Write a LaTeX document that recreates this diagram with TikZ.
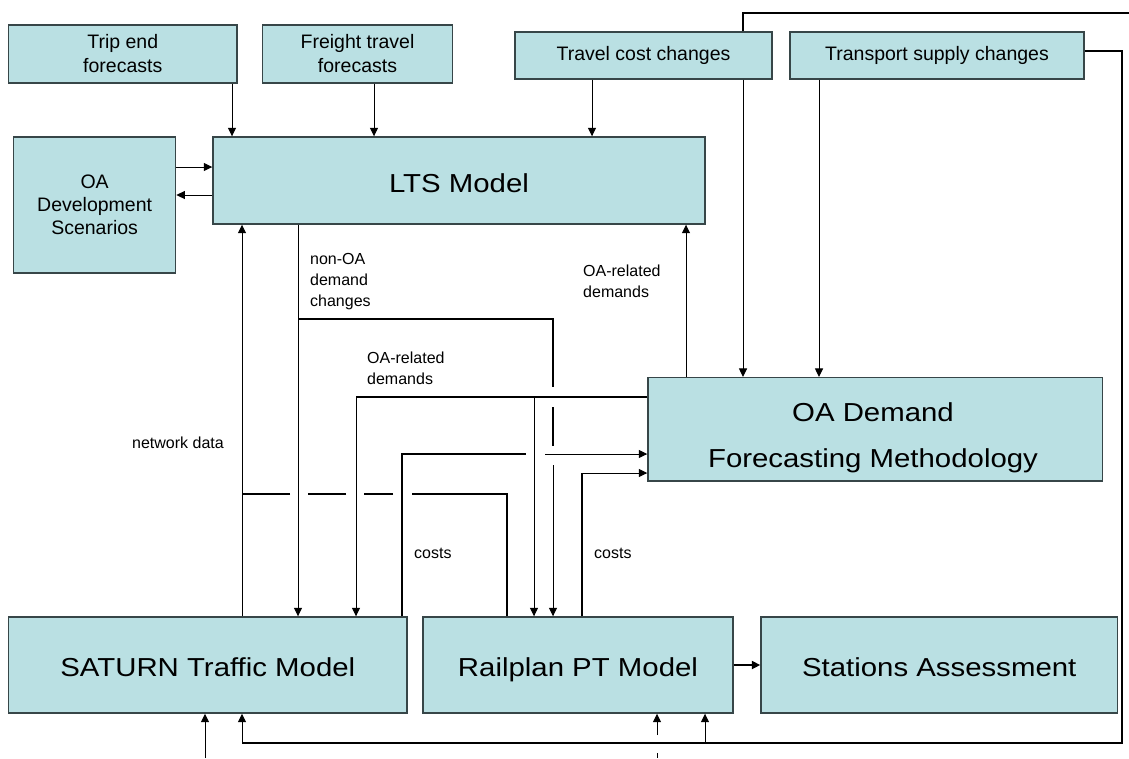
\documentclass[tikz,border=0pt]{standalone}
\usepackage{fontspec}
\setmainfont{Liberation Sans}
\newfontfamily\widesans[FakeStretch=1.13]{Liberation Sans}
\usetikzlibrary{arrows.meta}
\definecolor{boxfill}{RGB}{186,224,227}
\definecolor{boxline}{RGB}{55,70,72}
\begin{document}
\begin{tikzpicture}[x=1pt,y=-1pt,
  box/.style={draw=boxline,fill=boxfill,line width=1.4pt,inner sep=0pt,align=center,rectangle},
  sbox/.style={box,font=\fontsize{19.5}{24}\selectfont},
  bbox/.style={box,font=\widesans\fontsize{26}{34}\selectfont,text height=23pt,text depth=0pt},
  lbl/.style={inner sep=0pt,align=left,font=\fontsize{16}{21}\selectfont},
  thn/.style={line width=1pt},
  thk/.style={line width=2.2pt},
  arr/.style={-{Triangle[length=8.5pt,width=8pt]}}]
\useasboundingbox (0,0) rectangle (1129,758);
% boxes
\node[sbox,minimum width=228.5pt,minimum height=58pt] (trip) at (122.75,54) {Trip end\\forecasts};
\node[sbox,minimum width=190pt,minimum height=58pt] (freight) at (357.5,54) {Freight travel\\forecasts};
\node[sbox,minimum width=257pt,minimum height=47pt] (travel) at (643.5,55.5) {Travel cost changes};
\node[sbox,minimum width=294pt,minimum height=47pt] (supply) at (937,55.5) {Transport supply changes};
\node[sbox,minimum width=162pt,minimum height=136pt,font=\fontsize{19.5}{23}\selectfont] (oadev) at (94.65,205) {OA\\Development\\Scenarios};
\node[bbox,minimum width=492pt,minimum height=87pt] (lts) at (459,180.5) {LTS Model};
\node[box,minimum width=454.5pt,minimum height=103.3pt] (oad) at (875.25,429.3) {};
\node[inner sep=0pt,align=center,font=\widesans\fontsize{26}{46}\selectfont] (oadtext) at (873,438) {OA Demand\\Forecasting Methodology};
\node[bbox,minimum width=398.4pt,minimum height=96pt] (sat) at (207.8,665) {SATURN Traffic Model};
\node[bbox,minimum width=310pt,minimum height=96pt] (rail) at (578,665) {Railplan PT Model};
\node[bbox,minimum width=356.5pt,minimum height=96pt] (stat) at (939.25,665) {Stations Assessment};
% free ends
\coordinate (topend) at (1129,13);
\coordinate (satin) at (205,758);
\coordinate (railinA) at (657,735);
\coordinate (railinB) at (657,753);
\coordinate (railinC) at (657,758);
% labels
\node[lbl,anchor=west] (lnonoa) at (310,282) {non-OA\\demand\\changes};
\node[lbl,anchor=east] (lnet) at (224,443) {network data};
\node[lbl,anchor=west] (loa1) at (583,281) {OA-related\\demands};
\node[lbl,anchor=west] (loa2) at (367,368) {OA-related\\demands};
\node[lbl,anchor=west] (lcost1) at (414,553) {costs};
\node[lbl,anchor=west] (lcost2) at (594,553) {costs};
% inputs into LTS
\draw[thn,arr] (232,0 |- trip.south) -- (232,0 |- lts.north);
\draw[thn,arr] (374,0 |- freight.south) -- (374,0 |- lts.north);
\draw[thn,arr] (592,0 |- travel.south) -- (592,0 |- lts.north);
\draw[thn,arr] (oadev.east |- 0,167) -- (lts.west |- 0,167);
\draw[thn,arr] (lts.west |- 0,195) -- (oadev.east |- 0,195);
% network data
\draw[thn,arr] (242,0 |- sat.north) -- (242,0 |- lts.south);
% non-OA demand changes
\draw[thn,arr] (298,0 |- lts.south) -- (298,0 |- sat.north);
\draw[thk] (298,319) -- (553,319) -- (553,387);
\draw[thk] (553,407) -- (553,446);
\draw[thn,arr] (553,465) -- (553,0 |- rail.north);
% OA-related demands to SATURN and Railplan
\draw[thk] (oad.west |- 0,397) -- (356,397);
\draw[thn,arr] (356,397) -- (356,0 |- sat.north);
\draw[thn,arr] (534,397) -- (534,0 |- rail.north);
% costs from SATURN
\draw[thk] (402,0 |- sat.north) -- (402,454) -- (525.5,454);
\draw[thn,arr] (545,454) -- (oad.west |- 0,454);
% costs from Railplan
\draw[thk] (582,0 |- rail.north) -- (582,473);
\draw[thn,arr] (582,473) -- (oad.west |- 0,473);
% network data from Railplan (with line jumps)
\draw[thk] (507,0 |- rail.north) -- (507,494) -- (412,494);
\draw[thk] (393,494) -- (364,494);
\draw[thk] (346,494) -- (308,494);
\draw[thk] (290,494) -- (242,494);
% OA-related demands up to LTS
\draw[thn,arr] (686,0 |- oad.north) -- (686,0 |- lts.south);
% inputs into OA Demand
\draw[thn,arr] (743,0 |- travel.south) -- (743,0 |- oad.north);
\draw[thn,arr] (819,0 |- supply.south) -- (819,0 |- oad.north);
% top line
\draw[thk] (743,0 |- travel.north) -- (743,13) -- (topend);
% supply loop to bottom
\draw[thk] (supply.east |- 0,51) -- (1122,51) -- (1122,743) -- (242,743);
\draw[thn,arr] (242,743) -- (242,0 |- sat.south);
\draw[thn,arr] (705,743) -- (705,0 |- rail.south);
% railplan to stations
\draw[thk,arr] (rail.east) -- (stat.west);
% bottom inputs
\draw[thn,arr] (satin) -- (205,0 |- sat.south);
\draw[thn,arr] (railinA) -- (657,0 |- rail.south);
\draw[thn] (railinB) -- (railinC);
\end{tikzpicture}
\end{document}
